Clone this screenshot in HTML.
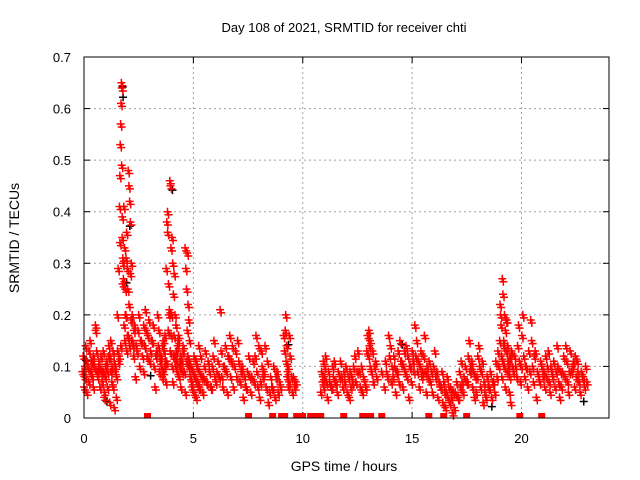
<!DOCTYPE html>
<html><head><meta charset="utf-8"><style>
body{margin:0;background:#fff}
svg{display:block;font-family:"Liberation Sans",sans-serif}
</style></head><body>
<svg id="c" width="640" height="480">
<text x="344" y="32" font-size="13" text-anchor="middle">Day 108 of 2021, SRMTID for receiver chti</text>
<text x="344" y="471" font-size="14" text-anchor="middle">GPS time / hours</text>
<text transform="translate(19,238) rotate(-90)" font-size="14" text-anchor="middle">SRMTID / TECUs</text>
<g id="grid"></g>
<g id="ticks"></g>
<g id="marks"></g>
<rect x="84" y="57" width="525" height="361" fill="none" stroke="#000" stroke-width="1"/>
</svg>
<script>
const xTicks=[0,5,10,15,20];
const yTicks=[0,0.1,0.2,0.3,0.4,0.5,0.6,0.7];
const yTickLabels=["0","0.1","0.2","0.3","0.4","0.5","0.6","0.7"];
const sampleHours=[0,0.1,0.2,0.3,0.4,0.5,0.6,0.7,0.8,0.9,1.0,1.1,1.2,1.3,1.4,1.5,1.6,1.7,1.8,1.9,2.0,2.1,2.2,2.3,2.5,2.7,2.8,3.0,3.2,3.4,3.5,3.6,3.7,3.8,3.9,4.0,4.1,4.2,4.3,4.4,4.5,4.6,4.7,4.8,4.9,5.0,5.1,5.2,5.3,5.5,5.7,5.9,6.1,6.3,6.5,6.7,6.9,7.1,7.3,7.5,7.7,7.9,8.1,8.3,8.5,8.7,8.9,9.2,9.3,9.4,9.6,10.9,11.0,11.2,11.4,11.6,11.8,12.0,12.2,12.4,12.6,12.8,13.0,13.1,13.3,13.6,13.8,14.0,14.2,14.4,14.6,14.8,15.0,15.2,15.4,15.6,15.8,16.0,16.2,16.4,16.6,16.8,17.0,17.2,17.4,17.6,17.8,18.0,18.2,18.4,18.6,18.8,19.0,19.1,19.2,19.3,19.4,19.5,19.7,19.9,20.1,20.3,20.5,20.7,20.9,21.1,21.3,21.5,21.7,21.9,22.1,22.3,22.5,22.7,22.9];
const sampleValues=[[.09,.12,.06,.1,.08],[.08,.14,.11,.1],[.05,.1,.13,.09],[.07,.15,.09,.11],[.11,.08,.12,.1],[.06,.1,.17,.09],[.18,.13,.09,.1],[.08,.11,.06,.09],[.1,.12,.07,.09],[.09,.13,.05,.1],[.04,.08,.11,.09],[.1,.06,.14,.12],[.12,.03,.09,.1],[.15,.07,.13,.11],[.06,.02,.1,.08],[.09,.04,.13,.11],[.2,.29,.12,.34,.14],[.41,.47,.53,.57,.61,.65,.64,.35,.26,.3],[.49,.39,.31,.27,.18,.15,.2],[.41,.33,.25,.2,.13,.16],[.31,.36,.29,.25,.16,.22,.14],[.48,.45,.42,.28,.19,.15],[.38,.3,.2,.14,.17],[.15,.12,.18,.08,.14],[.13,.17,.2,.1,.15],[.15,.12,.18,.14],[.09,.14,.21,.17,.12],[.16,.19,.11,.13,.15],[.15,.18,.1,.06,.12],[.13,.2,.14,.09,.11],[.17,.12,.1,.14],[.12,.08,.15,.1],[.09,.13,.16,.07,.11],[.11,.29,.38,.4,.17,.2],[.36,.26,.21,.13,.16],[.46,.45,.33,.2,.1,.07,.12],[.35,.3,.24,.16,.12,.1],[.28,.2,.18,.11,.14],[.13,.09,.15,.08,.11],[.16,.1,.12,.09],[.06,.11,.14,.09],[.13,.09,.05,.11],[.33,.29,.25,.17,.12,.1],[.32,.22,.19,.11,.08,.1],[.15,.1,.07,.09],[.06,.09,.12,.08],[.05,.08,.11,.07],[.04,.1,.07,.14,.06],[.06,.09,.12,.08],[.05,.08,.1,.13,.07],[.07,.11,.09,.06],[.06,.1,.12,.15,.08],[.07,.09,.11,.08],[.21,.13,.08,.06,.1],[.1,.14,.09,.05,.12],[.12,.16,.08,.11,.14],[.06,.1,.13,.08],[.15,.11,.07,.09],[.1,.04,.08,.06],[.06,.09,.12,.08],[.05,.08,.11,.07],[.12,.16,.09,.06,.14],[.04,.07,.13,.1,.08],[.09,.14,.06,.11],[.03,.05,.08,.06],[.06,.1,.04,.08],[.09,.05,.07,.06],[.16,.13,.17,.11,.08],[.2,.14,.09,.06,.16],[.1,.07,.12,.08],[.05,.08,.06,.07],[.05,.09,.07,.11,.08],[.08,.06,.1,.12,.07],[.04,.09,.07,.06],[.06,.1,.08,.11,.07],[.07,.05,.09,.08],[.11,.08,.06,.09],[.07,.1,.05,.08],[.04,.09,.06,.08,.07],[.1,.12,.07,.09],[.13,.09,.06,.1],[.05,.08,.07,.06],[.13,.16,.12,.14,.1],[.17,.15,.09,.13],[.07,.1,.11,.08],[.09],[.06,.11,.09,.08],[.16,.12,.14,.07,.1],[.08,.12,.1,.05,.09],[.09,.13,.07,.15,.11],[.11,.06,.1,.13,.09],[.14,.08,.12,.04,.1],[.1,.07,.13,.11,.09],[.18,.12,.15,.09,.11],[.06,.1,.13,.08,.09],[.12,.16,.09,.05,.1],[.08,.11,.07,.09],[.05,.1,.13,.08],[.09,.04,.07,.06],[.06,.09,.03,.07,.05],[.02,.05,.08,.04,.06],[.03,.06,.04,.01,.05],[.02,.05,.07,.04],[.04,.09,.06,.11,.07],[.05,.08,.1,.07],[.07,.12,.15,.09,.1],[.11,.06,.09,.04,.08],[.05,.08,.12,.14,.1],[.06,.09,.11,.03,.07],[.05,.04,.08,.06],[.06,.09,.04,.07],[.07,.05,.11,.08],[.13,.1,.15,.2,.12],[.22,.18,.08,.11,.14],[.27,.24,.15,.1,.06,.19],[.2,.17,.13,.09,.11],[.19,.14,.1,.05,.12],[.11,.08,.03,.13,.1],[.09,.12,.1,.08],[.14,.18,.11,.07,.1],[.16,.2,.12,.08,.1],[.1,.06,.13,.09],[.19,.15,.1,.07,.12],[.13,.04,.09,.08],[.07,.11,.1,.08],[.09,.06,.12,.08,.1],[.13,.07,.05,.1,.09],[.08,.11,.06,.09],[.14,.1,.07,.04,.09],[.06,.09,.12,.08],[.14,.11,.07,.05,.09],[.13,.09,.1,.11],[.06,.12,.08,.11,.09],[.07,.05,.09,.08],[.08,.06,.1,.07]];
const zeroHours=[2.88,7.5,8.6,9.01,9.15,9.7,9.97,10.34,10.61,10.8,11.85,12.72,12.9,13.08,13.59,15.74,16.42,17.47,19.9,20.9];
const blackHours=[1.72,1.74,1.9,2.05,4.0,1.0,3.0,9.3,14.5,22.8,0.05,18.6];
const blackValues=[.64,.62,.26,.37,.44,.03,.08,.14,.14,.03,.11,.02];
const X=h=>84+h*525/24, Y=v=>418-v*361/0.7;
const NS="http://www.w3.org/2000/svg";
function mk(t,a,p){const e=document.createElementNS(NS,t);for(const k in a)e.setAttribute(k,a[k]);p.appendChild(e);return e;}
const grid=document.getElementById('grid'),ticks=document.getElementById('ticks'),marks=document.getElementById('marks');
xTicks.forEach(t=>{const x=X(t);
 if(t>0){const l=mk('line',{x1:x,y1:57,x2:x,y2:418,stroke:'#a0a0a0','stroke-dasharray':'2,3'},grid);
 
 }
 mk('line',{x1:x,y1:418,x2:x,y2:412,stroke:'#000'},ticks);mk('line',{x1:x,y1:57,x2:x,y2:63,stroke:'#000'},ticks);
 const tx=mk('text',{x:x,y:443,'font-size':13,'text-anchor':'middle'},ticks);tx.textContent=t;
 
 });
yTicks.forEach((t,i)=>{const y=Y(t);
 if(t>0&&t<0.7){const l=mk('line',{x1:84,y1:y,x2:609,y2:y,stroke:'#a0a0a0','stroke-dasharray':'2,3'},grid);
 
 }
 mk('line',{x1:84,y1:y,x2:90,y2:y,stroke:'#000'},ticks);mk('line',{x1:609,y1:y,x2:603,y2:y,stroke:'#000'},ticks);
 const tx=mk('text',{x:71,y:y+5,'font-size':13,'text-anchor':'end'},ticks);tx.textContent=yTickLabels[i];
 
 });
function plus(x,y,c,name){const p=mk('path',{d:`M${x-4},${y}h8M${x},${y-4}v8`,stroke:c,'stroke-width':1.5,fill:'none'},marks);
 
 }
blackHours.forEach((h,i)=>plus(X(h)+1,Y(blackValues[i])-1,'#000','black-point'));
sampleHours.forEach((h,i)=>{const vs=sampleValues[i];const n=vs.length;
 vs.forEach((v,k)=>{const off=n>1?(k/(n-1)-0.5)*0.16:0;
  plus(X(h+off),Y(v),'#ff0000','red-point');
  plus(X(h+off+0.05),Y(v)+3,'#ff0000','red-point');});});
zeroHours.forEach(h=>{const r=mk('rect',{x:X(h)-3,y:413,width:7,height:5,fill:'#ff0000'},marks);
 
 });
</script>
</body></html>
